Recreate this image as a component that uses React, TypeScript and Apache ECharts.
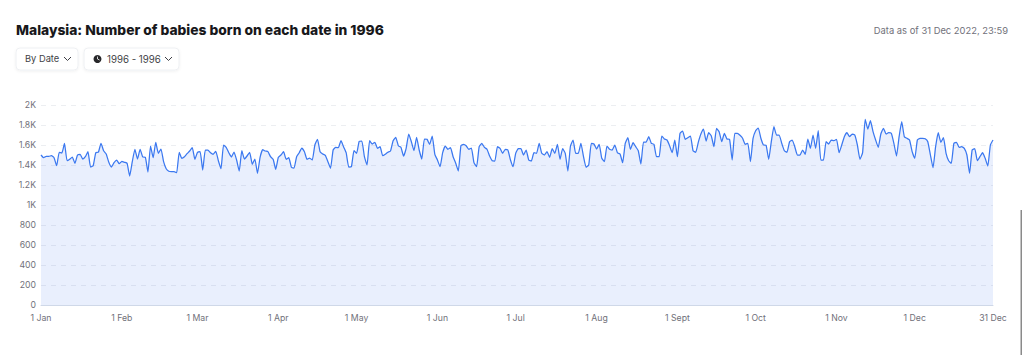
import React, { useEffect, useRef } from "react";
import * as echarts from "echarts";

const monthNames = ["Jan", "Feb", "Mar", "Apr", "May", "Jun", "Jul", "Aug", "Sept", "Oct", "Nov", "Dec"];
const monthLengths = [31, 29, 31, 30, 31, 30, 31, 31, 30, 31, 30, 31];
const yTicks: Record<number, string> = { 0: "0", 200: "200", 400: "400", 600: "600", 800: "800", 1000: "1K", 1200: "1.2K", 1400: "1.4K", 1600: "1.6K", 1800: "1.8K", 2000: "2K" };

const titleText = "Malaysia: Number of babies born on each date in 1996";
const asOfText = "Data as of 31 Dec 2022, 23:59";
const filterLabels = ["By Date", "1996 - 1996"];

const janToApr = [
  1500,1473,1487,1487,1493,1473,1393,1527,1520,1617,1443,1457,1480,1417,1500,1507,1460,1483,1533,1380,1393,1523,1527,1617,1543,1510,1427,1380,1423,1450,1413,
  1437,1427,1417,1290,1433,1557,1460,1557,1480,1477,1330,1590,1473,1627,1517,1560,1433,1363,1337,1333,1333,1323,1527,1467,1483,1513,1540,1573,1457,
  1527,1533,1350,1550,1550,1523,1507,1537,1443,1363,1600,1577,1523,1480,1530,1450,1340,1543,1460,1490,1527,1407,1460,1317,1477,1553,1540,1533,1483,1457,1357,
  1477,1500,1533,1457,1473,1377,1370,1483,1523,1570,1533,1457,1470,1450,1600,1657,1533,1510,1497,1433,1367,1550,1577,1573,1643,1583,1523,1380,1383,1543,1517,1637,
];
const mayToAug = [
  1640,1483,1400,1643,1610,1627,1567,1583,1493,1507,1527,1540,1643,1677,1593,1577,1490,1567,1710,1633,1543,1677,1550,1460,1660,1657,1607,1690,1507,1450,1383,
  1523,1590,1557,1573,1483,1417,1340,1593,1607,1593,1557,1570,1423,1383,1583,1617,1577,1557,1490,1443,1440,1583,1567,1517,1557,1550,1450,1383,1517,1563,
  1563,1500,1550,1450,1440,1523,1517,1617,1517,1500,1533,1477,1563,1517,1607,1457,1563,1517,1340,1590,1650,1517,1517,1617,1483,1377,1400,1617,1610,1560,1607,
  1467,1433,1590,1557,1550,1600,1523,1510,1423,1617,1673,1557,1623,1583,1543,1410,1630,1630,1683,1617,1607,1483,1483,1690,1660,1650,1593,1523,1650,1483,1717,
];
const septToDec = [
  1740,1657,1673,1690,1543,1527,1627,1710,1760,1640,1723,1690,1583,1767,1733,1633,1717,1660,1657,1450,1717,1717,1697,1667,1607,1617,1433,1667,1743,1770,
  1667,1600,1597,1457,1633,1783,1700,1700,1617,1543,1527,1633,1650,1583,1500,1500,1550,1507,1660,1567,1700,1567,1743,1450,1450,1633,1610,1650,1643,1657,1523,
  1600,1683,1723,1683,1710,1700,1600,1457,1523,1857,1760,1843,1733,1650,1577,1710,1767,1710,1723,1717,1617,1490,1683,1833,1683,1667,1650,1533,1467,
  1650,1667,1667,1663,1633,1500,1373,1583,1723,1627,1673,1517,1443,1417,1617,1627,1577,1583,1567,1500,1317,1550,1563,1443,1483,1523,1467,1390,1600,1650,
];
const births = [...janToApr, ...mayToAug, ...septToDec];

const categories: string[] = [];
monthNames.forEach((m, i) => {
  for (let d = 1; d <= monthLengths[i]; d++) categories.push(`${d} ${m}`);
});

const FONT = "Inter, 'Noto Sans', sans-serif";

export default function App() {
  const ref = useRef<HTMLDivElement>(null);
  useEffect(() => {
    document.body.style.margin = "0";
    const chart = echarts.init(ref.current!, undefined, { renderer: "svg" });
    const button = (x: number, w: number) => ({
      type: "rect",
      shape: { x, y: 48, width: w, height: 22, r: 4 },
      style: { fill: "#fff", stroke: "#eef0f3", lineWidth: 1, shadowBlur: 3, shadowColor: "rgba(0,0,0,0.06)", shadowOffsetY: 1 },
    });
    const chevron = (x: number) => ({
      type: "polyline",
      shape: { points: [[x, 57], [x + 3.5, 60.5], [x + 7, 57]] },
      style: { stroke: "#3f3f46", lineWidth: 1, fill: "none" },
    });
    chart.setOption({
      animation: false,
      grid: { left: 41, right: 31, top: 105, bottom: 50, containLabel: false },
      xAxis: {
        type: "category",
        data: categories,
        boundaryGap: false,
        axisTick: { show: false },
        axisLine: { lineStyle: { color: "#cfd8e8", width: 1 } },
        axisLabel: {
          color: "#71717a",
          fontFamily: FONT,
          fontSize: 8.7,
          margin: 8,
          showMinLabel: true,
          showMaxLabel: true,
          interval: (i: number, v: string) => v.startsWith("1 ") || i === categories.length - 1,
        },
        splitLine: { show: false },
      },
      yAxis: {
        type: "value",
        min: 0,
        max: 2000,
        interval: 200,
        axisLine: { show: false },
        axisTick: { show: false },
        axisLabel: { color: "#71717a", fontFamily: FONT, fontSize: 8.7, margin: 5, formatter: (v: number) => yTicks[v] ?? String(v) },
        splitLine: { lineStyle: { color: "#eceef1", type: [5, 5], width: 1 } },
      },
      series: [
        {
          type: "line",
          data: births,
          showSymbol: false,
          smooth: 0.15,
          lineStyle: { color: "#3b78f0", width: 1.25 },
          areaStyle: { color: "rgba(37,99,235,0.1)", opacity: 1 },
          z: 1,
        },
      ],
      graphic: [
        { type: "text", x: 16, y: 23, style: { text: titleText, font: `800 13.8px ${FONT}`, fill: "#18181b" } },
        { type: "text", x: 1008, y: 26, style: { text: asOfText, font: `400 9.4px ${FONT}`, fill: "#71717a", textAlign: "right" } },
        button(16, 62),
        button(84, 95),
        { type: "text", x: 25, y: 54, style: { text: filterLabels[0], font: `400 9.3px ${FONT}`, fill: "#3f3f46" } },
        chevron(64),
        { type: "circle", shape: { cx: 97.5, cy: 59, r: 4 }, style: { fill: "#27272a" } },
        { type: "polyline", shape: { points: [[97.5, 56.5], [97.5, 59], [99.5, 60]] }, style: { stroke: "#fff", lineWidth: 0.8, fill: "none" } },
        { type: "text", x: 107, y: 54, style: { text: filterLabels[1], font: `400 9.7px ${FONT}`, fill: "#3f3f46" } },
        chevron(165),
        { type: "rect", shape: { x: 1020.5, y: 210, width: 1.5, height: 145 }, style: { fill: "#8a8a8a" } },
      ],
    });
    return () => chart.dispose();
  }, []);
  return <div ref={ref} style={{ width: 1024, height: 355 }} />;
}
